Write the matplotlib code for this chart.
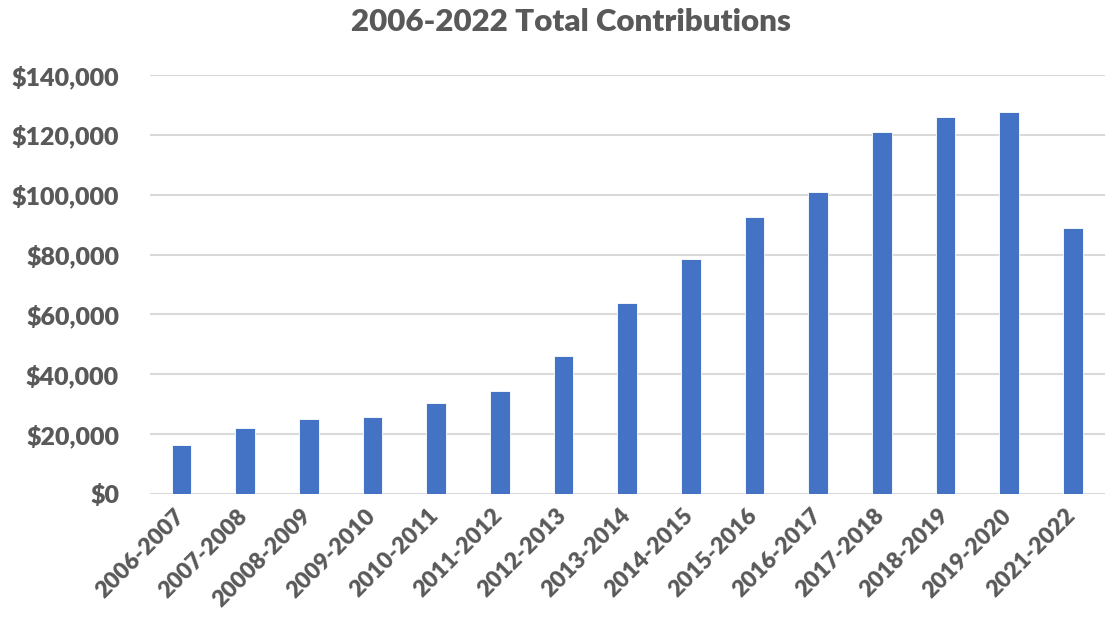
import matplotlib.pyplot as plt
import matplotlib.transforms as mtransforms
import numpy as np
from matplotlib.ticker import FuncFormatter

# values
seasons = ['2006-2007', '2007-2008', '20008-2009', '2009-2010', '2010-2011',
           '2011-2012', '2012-2013', '2013-2014', '2014-2015', '2015-2016',
           '2016-2017', '2017-2018', '2018-2019', '2019-2020', '2021-2022']
contributions = [16400, 22100, 25000, 25700, 30400,
                 34300, 46000, 63700, 78600, 92500,
                 100800, 121100, 126000, 127600, 88800]
y_ticks = [0, 20000, 40000, 60000, 80000, 100000, 120000, 140000]

plt.rcParams['font.family'] = ['Lato', 'DejaVu Sans']
text_color = '#595959'

fig = plt.figure(figsize=(11.08, 6.28), dpi=100)
ax = fig.add_axes([0.135, 0.2134, 0.862, 0.6672])

x = np.arange(len(seasons))
ax.bar(x, contributions, width=0.31, color='#4472C4', edgecolor='white',
       linewidth=0.6, zorder=3)

ax.set_xlim(-0.5, len(seasons) - 0.5)
ax.set_ylim(0, 140000)
ax.set_yticks(y_ticks)
ax.yaxis.set_major_formatter(FuncFormatter(lambda v, p: '${:,.0f}'.format(v)))
ax.grid(axis='y', color='#d9d9d9', linewidth=1.5, zorder=0)

ax.set_xticks(x)
ax.set_xticklabels(seasons, rotation=45, ha='right', rotation_mode='anchor')

for s in ax.spines.values():
    s.set_visible(False)
ax.tick_params(axis='both', length=0, colors=text_color)
ax.tick_params(axis='y', pad=22, labelsize=18)
ax.tick_params(axis='x', pad=8, labelsize=16.5)
shift = mtransforms.ScaledTranslation(-8 / 100, 0, fig.dpi_scale_trans)
for lbl in ax.get_xticklabels():
    lbl.set_fontweight('heavy')
    lbl.set_transform(lbl.get_transform() + shift)
for lbl in ax.get_yticklabels():
    lbl.set_fontweight('heavy')

fig.text(0.515, 0.965, '2006-2022 Total Contributions', ha='center', va='center',
         fontsize=22.5, fontweight='heavy', color=text_color)

fig.savefig('out.png', dpi=100)
